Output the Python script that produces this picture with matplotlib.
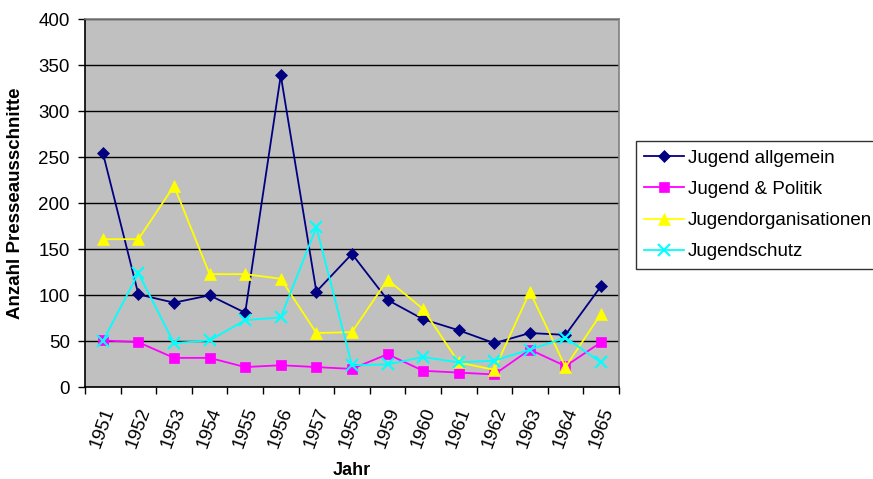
import numpy as np
import matplotlib
matplotlib.use('Agg')
import matplotlib.pyplot as plt

plt.rcParams['font.family'] = ['Liberation Sans', 'DejaVu Sans']

# ------------------ Data ------------------
jahre = [str(j) for j in range(1951, 1966)]
allgemein = [255, 101, 92, 100, 81, 339, 104, 145, 95, 74, 62, 48, 59, 57, 110]
politik = [51, 49, 32, 32, 22, 24, 22, 20, 36, 18, 16, 14, 41, 23, 49]
organisationen = [161, 161, 219, 123, 123, 118, 59, 60, 117, 85, 27, 19, 104, 22, 80]
schutz = [50, 124, 48, 51, 73, 76, 174, 24, 25, 33, 27, 29, 41, 54, 27]

serien = [
    ('Jugend allgemein', allgemein, '#000080', 'D', 6.5),
    ('Jugend & Politik', politik, '#FF00FF', 's', 7),
    ('Jugendorganisationen', organisationen, '#FFFF00', '^', 8.5),
    ('Jugendschutz', schutz, '#00FFFF', 'x', 8),
]

# ------------------ Plot ------------------
fig = plt.figure(figsize=(8.73, 4.79), dpi=100)
ax = fig.add_axes([0.0974, 0.1914, 0.6115, 0.7683])
ax.set_facecolor('#C0C0C0')

x = np.arange(len(jahre))
handles = []
for name, vals, col, mk, ms in serien:
    h, = ax.plot(x, vals, color=col, marker=mk, markersize=ms, linewidth=1.3,
                 markeredgewidth=1.5 if mk == 'x' else 0.5, markeredgecolor=col,
                 label=name, zorder=3)
    handles.append(h)

ax.set_xlim(-0.5, len(jahre) - 0.5)
ax.set_ylim(0, 400)
ax.set_yticks(range(0, 401, 50))
ax.yaxis.grid(True, color='black', linewidth=1.0)
ax.set_axisbelow(True)

# ticks between categories, labels at centres
ax.set_xticks(np.arange(-0.5, len(jahre), 1.0))
ax.set_xticklabels([])
ax.set_xticks(x, minor=True)
ax.set_xticklabels(jahre, minor=True, rotation=70, ha='center', fontsize=13.5)
ax.tick_params(axis='x', which='minor', length=0, pad=13)
ax.tick_params(axis='x', which='major', length=5, width=1, direction='out')
ax.tick_params(axis='y', length=5, width=1, direction='out', labelsize=13.5, pad=6)

for s in ['left', 'bottom']:
    ax.spines[s].set_color('black')
    ax.spines[s].set_linewidth(1.2)
for s in ['top', 'right']:
    ax.spines[s].set_color('#808080')
    ax.spines[s].set_linewidth(1.2)

ax.set_ylabel('Anzahl Presseausschnitte', fontsize=13.5, fontweight='bold', labelpad=10)
ax.set_xlabel('Jahr', fontsize=13, fontweight='bold', labelpad=8)

leg = fig.legend(handles=handles, loc='upper left', bbox_to_anchor=(0.7285, 0.705),
                 frameon=True, fancybox=False, fontsize=13.5, handlelength=2.1,
                 borderpad=0.45, labelspacing=0.75, handletextpad=0.2,
                 borderaxespad=0)
leg.get_frame().set_edgecolor('black')
leg.get_frame().set_linewidth(1.0)

fig.savefig('out.png', dpi=100)
